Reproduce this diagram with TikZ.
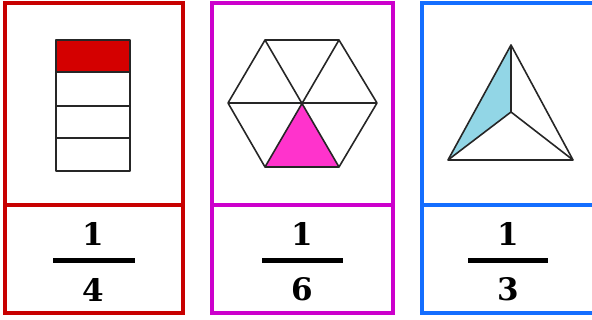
\documentclass[tikz,border=0pt]{standalone}
\usepackage{fontspec}
\setmainfont{DejaVu Serif}
\definecolor{cred}{RGB}{200,0,0}
\definecolor{cmag}{RGB}{204,0,204}
\definecolor{cblue}{RGB}{20,110,255}
\definecolor{fred}{RGB}{212,0,0}
\definecolor{fpink}{RGB}{255,51,204}
\definecolor{fblue}{RGB}{146,214,230}
\tikzset{
  panel/.style={line width=3.2pt},
  shape line/.style={draw=black!85, line width=1.6pt, line join=round},
  digit/.style={font=\fontsize{31}{31}\selectfont\bfseries, inner sep=0pt, anchor=center},
  fracbar/.style={line width=5pt}
}
\begin{document}
\begin{tikzpicture}[x=1pt,y=-1pt]
\useasboundingbox (0,0) rectangle (592,320);
\begin{scope}
\clip (0,0) rectangle (592,320);
% panels
\draw[panel,cred] (5,3) rectangle (183,313);
\draw[panel,cred] (5,205) -- (183,205);
\draw[panel,cmag] (212,3) rectangle (393,313);
\draw[panel,cmag] (212,205) -- (393,205);
\draw[panel,cblue] (422,3) rectangle (598,313);
\draw[panel,cblue] (422,205) -- (598,205);
\end{scope}
% panel 1: strip
\fill[fred] (56,40) rectangle (130,72);
\draw[shape line] (56,40) rectangle (130,171);
\draw[shape line] (56,72) -- (130,72);
\draw[shape line] (56,106) -- (130,106);
\draw[shape line] (56,138) -- (130,138);
% panel 2: hexagon
\coordinate (c) at (302,103);
\coordinate (h1) at (265,40);
\coordinate (h2) at (339,40);
\coordinate (h3) at (377,103);
\coordinate (h4) at (339,167);
\coordinate (h5) at (265,167);
\coordinate (h6) at (228,103);
\fill[fpink] (c) -- (h4) -- (h5) -- cycle;
\draw[shape line] (h1) -- (h2) -- (h3) -- (h4) -- (h5) -- (h6) -- cycle;
\draw[shape line] (h1) -- (h4);
\draw[shape line] (h2) -- (h5);
\draw[shape line] (h3) -- (h6);
% panel 3: triangle
\coordinate (t1) at (511,45);
\coordinate (t2) at (448,160);
\coordinate (t3) at (573,160);
\coordinate (tc) at (511,112);
\fill[fblue] (t1) -- (tc) -- (t2) -- cycle;
\draw[shape line] (t1) -- (t2) -- (t3) -- cycle;
\draw[shape line] (tc) -- (t1);
\draw[shape line] (tc) -- (t2);
\draw[shape line] (tc) -- (t3);
% fractions
\node[digit] (n1) at (93,233.5) {1};
\node[digit] (d1) at (93,289.5) {4};
\draw[fracbar] (53,260.5) -- (135,260.5);
\node[digit] (n2) at (302,233.5) {1};
\node[digit] (d2) at (302,289.5) {6};
\draw[fracbar] (262,261) -- (343,261);
\node[digit] (n3) at (508,233.5) {1};
\node[digit] (d3) at (508,289.5) {3};
\draw[fracbar] (468,260.5) -- (548,260.5);
\end{tikzpicture}
\end{document}
